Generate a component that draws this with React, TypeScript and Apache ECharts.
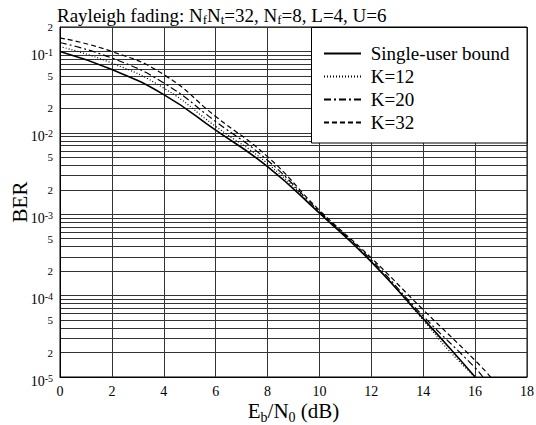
import React, { useEffect, useRef } from 'react';
import * as echarts from 'echarts';

// Eb/N0 (dB) sample points and BER values
const suX = [0, 2, 4, 6, 8, 10, 12, 14, 15, 16];
const singleUser = [1.0e-1, 6.0e-2, 2.95e-2, 1.08e-2, 3.85e-3, 1.03e-3, 2.6e-4, 5.2e-5, 2.3e-5, 1.0e-5];
const k12X = [0, 2, 4, 6, 8, 10, 12, 14, 15, 16];
const k12 = [1.15e-1, 7.2e-2, 3.55e-2, 1.2e-2, 4.2e-3, 1.05e-3, 2.65e-4, 5.0e-5, 2.1e-5, 1.0e-5];
const k20X = [0, 2, 4, 6, 8, 10, 12, 14, 16, 16.3];
const k20 = [1.29e-1, 8.3e-2, 4.1e-2, 1.38e-2, 4.6e-3, 1.08e-3, 2.75e-4, 5.6e-5, 1.3e-5, 1.0e-5];
const k32X = [0, 2, 4, 6, 8, 10, 12, 14, 16, 16.6];
const k32 = [1.47e-1, 1.0e-1, 5.2e-2, 1.59e-2, 5.1e-3, 1.12e-3, 2.9e-4, 6.7e-5, 1.6e-5, 1.0e-5];

const seriesNames = ['Single-user bound', 'K=12', 'K=20', 'K=32'];
const xTicks = [0, 2, 4, 6, 8, 10, 12, 14, 16, 18];
const berMin = 1e-5;
const berMax = 0.2;
const decades = [-5, -4, -3, -2, -1];
const labelMantissas = [1, 2, 5];

const fontFamily = 'Liberation Serif, serif';

export default function App() {
  const ref = useRef<HTMLDivElement>(null);
  useEffect(() => {
    document.body.style.margin = '0';
    const chart = echarts.init(ref.current!, undefined, { renderer: 'svg' });
    const yMin = Math.log10(berMin);
    const yMax = Math.log10(berMax);
    const tickVals: number[] = [];
    const labelVals: number[] = [];
    decades.forEach((e) => {
      for (let k = 1; k <= 9; k++) {
        const v = e + Math.log10(k);
        if (v <= yMax + 1e-9) tickVals.push(k === 1 ? e : v);
        if (labelMantissas.includes(k) && v <= yMax + 1e-9) labelVals.push(k === 1 ? e : v);
      }
    });
    const toData = (xs: number[], ys: number[]) => xs.map((x, i) => [x, Math.log10(ys[i])]);
    const mk = (name: string, xs: number[], ys: number[], type: any, width: number) => ({
      name,
      type: 'line',
      data: toData(xs, ys),
      smooth: 0.5,
      symbol: 'none',
      showSymbol: false,
      lineStyle: { color: '#000', width, type },
      itemStyle: { color: '#000' },
      z: 5,
    });
    const option: any = {
      animation: false,
      backgroundColor: '#fff',
      textStyle: { fontFamily, color: '#000' },
      title: {
        text: '{a|Rayleigh fading: N}{b|f}{a|N}{b|t}{a|=32, N}{b|f}{a|=8, L=4, U=6}',
        left: 57,
        top: 4,
        padding: 0,
        textStyle: {
          fontWeight: 'normal',
          fontFamily,
          rich: {
            a: { fontSize: 19, lineHeight: 22, fontFamily, fontWeight: 'normal', color: '#000' },
            b: { fontSize: 13, lineHeight: 13, verticalAlign: 'bottom', fontFamily, fontWeight: 'normal', color: '#000' },
          },
        },
      },
      grid: {
        left: 60,
        right: 9,
        top: 27,
        bottom: 48,
        outerBoundsMode: 'none',
        containLabel: false,
        show: true,
        borderColor: '#000',
        borderWidth: 1,
        backgroundColor: 'transparent',
      },
      legend: {
        data: seriesNames,
        orient: 'vertical',
        left: 323,
        top: 44,
        padding: 0,
        itemWidth: 37,
        itemHeight: 14,
        itemGap: 4,
        z: 100,
        formatter: (n: string) => ' ' + n,
        itemStyle: { color: 'rgba(0,0,0,0)', borderColor: 'rgba(0,0,0,0)', borderWidth: 0, opacity: 0 },
        lineStyle: { color: '#000' },
        textStyle: { fontSize: 19, lineHeight: 18, fontFamily, color: '#000' },
      },
      graphic: [
        {
          type: 'rect',
          z: 50,
          shape: { x: 311.5, y: 27.5, width: 215.5, height: 115.5 },
          style: { fill: '#fff', stroke: '#000', lineWidth: 1 },
        },
      ],
      xAxis: {
        type: 'value',
        min: 0,
        max: 18,
        interval: 2,
        name: '{a|E}{b|b}{a|/N}{b|0}{a| (dB)}',
        nameLocation: 'middle',
        nameGap: 23,
        nameMoveOverlap: false,
        nameTextStyle: {
          fontFamily,
          rich: {
            a: { fontSize: 21, lineHeight: 18, verticalAlign: 'top', fontFamily, color: '#000' },
            b: { fontSize: 14, lineHeight: 12, padding: [10, 0, 0, 0], verticalAlign: 'top', fontFamily, color: '#000' },
          },
        },
        axisLine: { show: true, lineStyle: { color: '#000' } },
        axisTick: { show: false },
        axisLabel: {
          fontSize: 14,
          lineHeight: 13,
          fontFamily,
          color: '#000',
          margin: 8,
          formatter: (v: number) => (xTicks.includes(v) ? String(v) : ''),
        },
        splitLine: { show: true, lineStyle: { color: '#333', width: 1 } },
      },
      yAxis: {
        type: 'value',
        min: yMin,
        max: yMax,
        name: 'BER',
        nameLocation: 'middle',
        nameGap: 30,
        nameMoveOverlap: false,
        nameRotate: 90,
        nameTextStyle: { fontSize: 21, lineHeight: 21, fontFamily, color: '#000' },
        axisLine: { show: true, lineStyle: { color: '#000' } },
        axisTick: { show: false, customValues: tickVals },
        axisLabel: {
          customValues: labelVals,
          margin: 7,
          color: '#000',
          fontFamily,
          formatter: (v: number) => {
            const r = Math.round(v);
            if (Math.abs(v - r) < 1e-6) return `{m|10}{e|${r}}`;
            const e = Math.floor(v);
            const mant = Math.round(Math.pow(10, v - e));
            return `{s|${mant}}`;
          },
          rich: {
            m: { fontSize: 14, lineHeight: 14, padding: [8, 0, 0, 0], fontFamily, color: '#000' },
            e: { fontSize: 10, lineHeight: 10, padding: [3, 0, 0, 0], verticalAlign: 'top', fontFamily, color: '#000' },
            s: { fontSize: 11, fontFamily, color: '#000' },
          },
        },
        splitLine: { show: true, lineStyle: { color: '#333', width: 1 } },
      },
      series: [
        mk(seriesNames[0], suX, singleUser, 'solid', 1.6),
        mk(seriesNames[1], k12X, k12, [1, 2], 1.2),
        mk(seriesNames[2], k20X, k20, [7, 3, 2, 3], 1.2),
        mk(seriesNames[3], k32X, k32, [5, 3], 1.2),
      ],
    };
    chart.setOption(option);
    return () => chart.dispose();
  }, []);
  return <div ref={ref} style={{ position: 'absolute', left: 0, top: 0, width: 536, height: 425 }} />;
}
